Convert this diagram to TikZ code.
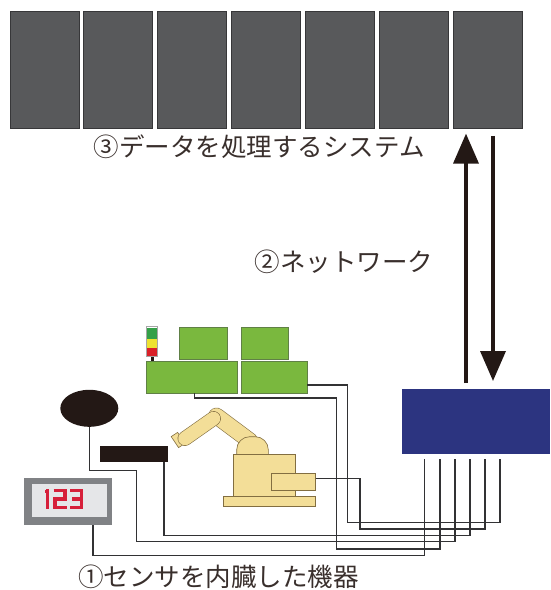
\documentclass[tikz,border=0pt]{standalone}
\usepackage{fontspec}
\newfontfamily\jpfont{Noto Sans CJK JP}
\usetikzlibrary{arrows.meta,shapes.geometric}

\definecolor{rackgray}{RGB}{88,89,91}
\definecolor{rackedge}{RGB}{55,55,57}
\definecolor{ctrlblue}{RGB}{44,52,128}
\definecolor{machgreen}{RGB}{122,184,62}
\definecolor{greenedge}{RGB}{96,128,70}
\definecolor{robottan}{RGB}{243,222,152}
\definecolor{robotedge}{RGB}{130,110,65}
\definecolor{ink}{RGB}{35,24,21}
\definecolor{wiregray}{RGB}{50,50,52}
\definecolor{dispouter}{RGB}{128,130,133}
\definecolor{dispinner}{RGB}{229,230,232}
\definecolor{segred}{RGB}{214,32,58}
\definecolor{lampgreen}{RGB}{52,160,72}
\definecolor{lampyellow}{RGB}{238,226,48}
\definecolor{lampred}{RGB}{218,32,40}

\tikzset{
  panel/.style={fill=rackgray, draw=rackedge, line width=0.9pt, inner sep=0pt,
    minimum width=69pt, minimum height=117pt, anchor=north west},
  greenbox/.style={fill=machgreen, draw=greenedge, line width=0.5pt, inner sep=0pt, anchor=north west},
  robotpart/.style={fill=robottan, draw=robotedge, line width=0.6pt},
  wire/.style={draw=wiregray, line width=1.5pt},
  bigarrow/.style={draw=ink, line width=3.6pt, -{Triangle[length=30pt,width=25pt]}},
  caption/.style={font=\jpfont\fontsize{25.5}{30}\selectfont, text=ink!90!white, inner sep=0pt},
  seg/.style={draw=segred, line width=3.2pt, line cap=butt, line join=miter}
}

\begin{document}
\begin{tikzpicture}[x=1pt,y=-1pt]
\useasboundingbox (0,0) rectangle (550,590);

% server racks of the processing system
\foreach \i in {1,...,7}{
  \node[panel] (rack\i) at ({9.5+(\i-1)*73.87},11) {};
}

% controller / gateway box
\node[fill=ctrlblue, inner sep=0pt, anchor=north west, minimum width=148.3pt, minimum height=65pt] (ctrl) at (401.7,388.3) {};

% upward and downward network arrows
\coordinate (upx) at (466,0);
\coordinate (dnx) at (493,0);
\draw[bigarrow, shorten <=5.3pt, shorten >=4.7pt] (ctrl.north -| upx) -- (rack7.south -| upx);
\draw[bigarrow, shorten <=7pt, shorten >=7.3pt] (rack7.south -| dnx) -- (ctrl.north -| dnx);

% captions
\node[caption] (cap3) at (259.2,147) {③データを処理するシステム};
\node[caption] (cap2) at (344.2,262) {②ネットワーク};
\node[caption] (cap1) at (218.4,577) {①センサを内臓した機器};

% production line machines (green)
\node[greenbox, minimum width=47.4pt, minimum height=32pt] (g1) at (179.3,327.3) {};
\node[greenbox, minimum width=47pt, minimum height=32pt] (g2) at (241,327.3) {};
\node[greenbox, minimum width=91pt, minimum height=31.7pt] (g3) at (145.7,361) {};
\node[greenbox, minimum width=65.7pt, minimum height=31.7pt] (g4) at (241,361) {};

% signal tower
\fill[ink] (150.7,355) rectangle (154,361);
\fill[lampgreen] (146,327.5) rectangle (157.3,339);
\fill[lampyellow] (146,339) rectangle (157.3,347.7);
\fill[lampred] (146,347.7) rectangle (157.3,356);
\draw[draw=gray!70, line width=0.5pt] (146,326.7) rectangle (157.3,356);

% industrial robot
\draw[draw=robotedge, line width=16.6pt, line cap=round] (216.5,416) -- (250,441);
\draw[draw=robottan, line width=15.4pt, line cap=round] (216.5,416) -- (250,441);
\draw[robotpart] (177.6,432.4) -- (185,443.4) -- (178.6,447.6) -- (171.2,436.6) -- cycle;
\draw[draw=robotedge, line width=14.8pt, line cap=round] (213.5,418.5) -- (185,438.5);
\draw[draw=robottan, line width=13.6pt, line cap=round] (213.5,418.5) -- (185,438.5);
\draw[robotpart, rounded corners=13pt] (236.7,458) -- (236.7,436.7) -- (268.3,436.7) -- (268.3,458);
\draw[robotpart] (233.3,454.3) rectangle (295,496.7);
\node[robotpart, inner sep=0pt, anchor=north west, minimum width=44pt, minimum height=16.7pt] (rctrl) at (271,473.3) {};
\draw[robotpart] (223.3,496.7) rectangle (315.7,506);

% round sensor
\node[ellipse, fill=ink, inner sep=0pt, minimum width=58pt, minimum height=37pt] (sens) at (89.3,408.3) {};
% bar sensor
\node[fill=ink, inner sep=0pt, anchor=north west, minimum width=68pt, minimum height=15.7pt] (bar) at (99.3,446) {};

% digital display
\node[fill=dispouter, inner sep=0pt, anchor=north west, minimum width=88.5pt, minimum height=47pt] (disp) at (23.5,478) {};
\fill[dispinner] (32,483.5) rectangle (107,517);
\draw[seg] (45.4,491.2) -- (47.4,491.2);
\draw[seg] (47.4,489) -- (47.4,509);
\draw[seg] (53.5,490.6) -- (65,490.6) -- (65,499) -- (55,499) -- (55,507.4) -- (66.5,507.4);
\draw[seg] (70,490.6) -- (81.6,490.6) -- (81.6,507.4) -- (70,507.4);
\draw[seg] (72,499) -- (81.6,499);

% input ports under the controller
\foreach \n/\x in {1/424.3,2/440,3/455,4/470,5/485,6/500}{
  \coordinate (p\n) at (\x,459.3);
}

% wiring from each device to its port
\draw[wire] ([xshift=25pt]disp.south) -- ++(0,30) -| (p1);
\draw[wire] ([xshift=2.8pt]g3.south) -- ++(0,5) -| (336.7,549) -| (p2);
\draw[wire] (sens.south) -- (sens.south |- 0,470.7) -- (136.7,470.7) -- (136.7,541.7) -| (p3);
\draw[wire] ([xshift=30.7pt]bar.south) -- ++(0,73.3) -| (p4);
\draw[wire] ([yshift=3.4pt]rctrl.east) -| (360,529) -| (p5);
\draw[wire] ([yshift=-8pt]g4.east) -| (347.7,522.3) -| (p6);

\end{tikzpicture}
\end{document}
